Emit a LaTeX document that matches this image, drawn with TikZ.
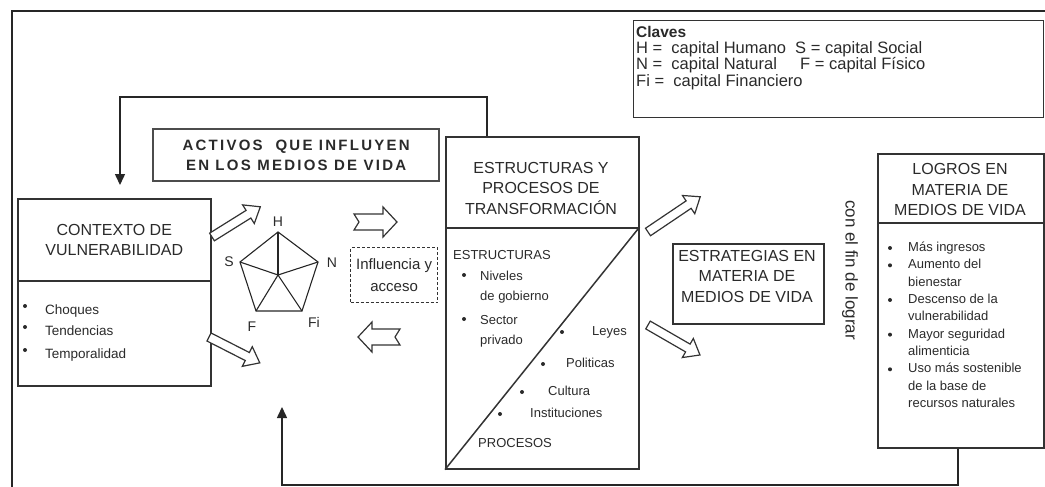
\documentclass[tikz,border=0pt]{standalone}
\usepackage{fontspec}
\setmainfont{Liberation Sans}
\usetikzlibrary{arrows.meta}
\definecolor{ink}{HTML}{2A2A2A}
\definecolor{linec}{HTML}{333333}
\newcommand\fsz[2]{\fontsize{#1}{#2}\selectfont}
% tail x, tail y, angle, length, shaft half width, head half width, head length, notch
\newcommand\blockarrow[8]{\draw[harrow, shift={(#1,#2)}, rotate=#3]
  (0,-#5) -- ({#4-#7},-#5) -- ({#4-#7},-#6) -- (#4,0) -- ({#4-#7},#6) -- ({#4-#7},#5) -- (0,#5) -- (#8,0) -- cycle;}
\begin{document}
\begin{tikzpicture}[x=1pt,y=-1pt,
  box/.style={draw=linec, line width=1.6pt, inner sep=0pt, anchor=north west},
  txt/.style={text=ink, inner sep=0pt},
  ln/.style={txt, anchor=west, text height=0.7em, text depth=0.2em},
  conn/.style={draw=black!85, line width=1.5pt},
  tip/.style={-{Triangle[length=11pt,width=10pt]}},
  harrow/.style={draw=linec, line width=1.2pt, fill=white, line join=miter},
  bul/.style={circle, fill=ink, inner sep=0pt, minimum size=4pt},
  title/.style={txt, align=center, font=\fsz{16}{20.5}},
  keyt/.style={txt, anchor=base west, font=\fsz{16.5}{16.5}}
]
\useasboundingbox (0,0) rectangle (1045,487);
% outer frame
\draw[line width=1.5pt, black!85] (12,487) -- (12,11) -- (1045,11);

% key
\node[box, line width=1.4pt, minimum width=410pt, minimum height=97pt] (key) at (633,20) {};
\node[txt, anchor=base west, font=\bfseries\fsz{15.5}{15.5}] (kc) at (636,38) {Claves};
\node[keyt] (kh) at (636,54) {H = \ capital Humano};
\node[keyt] (kn) at (636,70) {N = \ capital Natural};
\node[keyt] (kf) at (636,87) {Fi = \ capital Financiero};
\node[keyt] (ks) at (795,54) {S = capital Social};
\node[keyt] (kff) at (800,70) {F = capital Físico};

% activos
\node[box, line width=2.2pt, draw=black!70, minimum width=286pt, minimum height=52pt, align=center,
  font=\bfseries\fsz{15}{19.5}\addfontfeature{LetterSpace=15}, text=ink] (act) at (152,128)
  {ACTIVOS \ QUE INFLUYEN\\EN LOS MEDIOS DE VIDA};

% contexto
\node[box, minimum width=193pt, minimum height=82pt, align=center, font=\fsz{16}{20}, text=ink] (ctxT) at (17,198)
  {CONTEXTO DE\\VULNERABILIDAD};
\node[box, minimum width=193pt, minimum height=105pt] (ctxB) at (17,280) {};
\foreach \t/\yy [count=\i] in {Choques/312, Tendencias/333, Temporalidad/356}{
  \node[bul] (cb\i) at (25,\yy-6) {};
  \node[ln, font=\fsz{13.5}{17}] (ct\i) at (45,\yy) {\t};
}

% pentagon
\coordinate (pH) at (278,232);
\coordinate (pN) at (318,262);
\coordinate (pFi) at (302,311);
\coordinate (pF) at (256,311);
\coordinate (pS) at (240,262);
\coordinate (pC) at (278,275);
\draw[line width=1.1pt, black!85, line join=miter] (pH) -- (pN) -- (pFi) -- (pF) -- (pS) -- cycle;
\foreach \p in {pH,pN,pFi,pF,pS} \draw[line width=1.1pt, black!85] (pC) -- (\p);
\node[txt, font=\fsz{14}{14}] (lH) at (278,222) {H};
\node[txt, font=\fsz{14}{14}] (lS) at (229,262) {S};
\node[txt, font=\fsz{14}{14}] (lN) at (332,263) {N};
\node[txt, font=\fsz{14}{14}] (lF) at (252,327) {F};
\node[txt, font=\fsz{14}{14}] (lFi) at (314,322) {Fi};

% influencia
\node[box, dashed, line width=1.3pt, dash pattern=on 3pt off 2pt, minimum width=87pt, minimum height=55pt,
  align=center, font=\fsz{15}{22}, text=ink] (inf) at (350,247) {Influencia y\\acceso};

% hollow arrows
\blockarrow{212}{237}{32}{57}{4.5}{11}{14}{0}
\blockarrow{209}{337}{-27}{57}{4.5}{11}{14}{0}
\blockarrow{354}{222}{0}{43}{8}{15}{14}{5}
\blockarrow{400}{337}{180}{42}{8}{15}{14}{5}
\blockarrow{648}{232}{34}{63}{4.5}{11}{14}{0}
\blockarrow{648}{325}{-30}{60}{4.5}{11}{14}{0}

% estructuras
\node[box, minimum width=193pt, minimum height=91pt] (estT) at (445,136) {};
\node[title] (estTt) at (541,188) {ESTRUCTURAS Y\\PROCESOS DE\\TRANSFORMACIÓN};
\node[box, minimum width=193pt, minimum height=241pt] (estB) at (445,227) {};
\draw[line width=1.5pt, linec] (estB.south west) -- (estB.north east);
\node[ln, font=\fsz{13}{17}] (eE) at (453,257) {ESTRUCTURAS};
\node[bul] (eb1) at (464,275) {};
\node[ln, font=\fsz{13}{17}] (eN1) at (480,278) {Niveles};
\node[ln, font=\fsz{13}{17}] (eN2) at (480,298) {de gobierno};
\node[bul] (eb2) at (464,319) {};
\node[ln, font=\fsz{13}{17}] (eS1) at (480,322) {Sector};
\node[ln, font=\fsz{13}{17}] (eS2) at (480,342) {privado};
\node[bul] (eb3) at (562,332) {};
\node[ln, font=\fsz{13}{17}] (eL) at (592,333) {Leyes};
\node[bul] (eb4) at (543,364) {};
\node[ln, font=\fsz{13}{17}] (eP) at (566,365) {Politicas};
\node[bul] (eb5) at (522,392) {};
\node[ln, font=\fsz{13}{17}] (eC) at (548,393) {Cultura};
\node[bul] (eb6) at (500,414) {};
\node[ln, font=\fsz{13}{17}] (eI) at (530,415) {Instituciones};
\node[ln, font=\fsz{13}{17}] (ePr) at (478,445) {PROCESOS};

% estrategias
\node[box, minimum width=151pt, minimum height=80pt] (estr) at (672,243) {};
\node[title] (estrt) at (747,276) {ESTRATEGIAS EN\\MATERIA DE\\MEDIOS DE VIDA};

% con el fin de lograr
\node[txt, rotate=-90, font=\fsz{17}{17}] (fin) at (850,270) {con el fin de lograr};

% logros
\node[box, minimum width=166pt, minimum height=69pt] (logT) at (877,153) {};
\node[title] (logTt) at (960,189.5) {LOGROS EN\\MATERIA DE\\MEDIOS DE VIDA};
\node[box, minimum width=166pt, minimum height=225pt] (logB) at (877,222) {};
\foreach \t [count=\i] in {Más ingresos, Aumento del, bienestar, Descenso de la, vulnerabilidad,
  Mayor seguridad, alimenticia, Uso más sostenible, de la base de, recursos naturales}{
  \node[ln, font=\fsz{13}{17}] (lg\i) at (908,{249+17.33*(\i-1)}) {\t};
}
\foreach \i in {1,2,4,6,8} \node[bul] (lb\i) at (890,{248+17.33*(\i-1)}) {};

% feedback connectors
\coordinate (topbend1) at (487,97);
\coordinate (topbend2) at (120,97);
\draw[conn, tip, shorten >=13pt] (estT.north -| topbend1) -- (topbend1) -- (topbend2) -- (ctxT.north -| topbend2);
\coordinate (botend) at (282,407);
\draw[conn, tip] (logB.south -| 958,0) -- (958,485) -- (282,485) -- (botend);
\end{tikzpicture}
\end{document}
